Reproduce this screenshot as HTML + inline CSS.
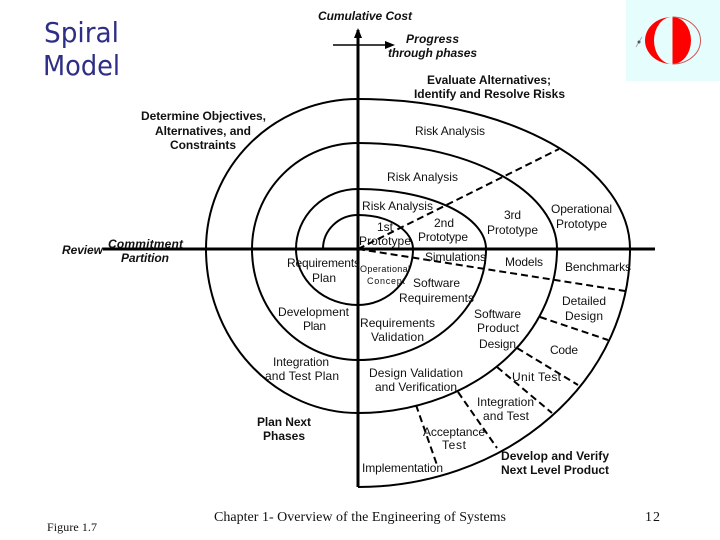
<!DOCTYPE html>
<html>
<head>
<meta charset="utf-8">
<style>
html,body{margin:0;padding:0;background:#fff;width:720px;height:540px;overflow:hidden}
svg{display:block}
text{font-family:"Liberation Sans",sans-serif;font-size:12px;fill:#111}
.b{font-weight:bold}
.bi{font-weight:bold;font-style:italic}
.s{font-family:"Liberation Serif",serif;font-size:14px}
.t{font-family:"DejaVu Sans",sans-serif;font-size:28px;fill:#2e2e86}
.d{stroke-dasharray:7 4;stroke-width:2;stroke:#000;fill:none}
</style>
</head>
<body>
<svg width="720" height="540" viewBox="0 0 720 540" xmlns="http://www.w3.org/2000/svg">
<rect x="626" y="0" width="94" height="81" fill="#e6fdfd"/>
<path d="M672 17A27 23.500 0 0 0 672 64A18 23.500 0 0 1 672 17Z" fill="#f00"/>
<path d="M672.500 17A18.500 23.500 0 0 1 672.500 64Z" fill="#f00"/>
<path d="M672.500 17A28 23.500 0 0 1 672.500 64" fill="none" stroke="#c55" stroke-width="1"/>
<path d="M636 47L642 37" stroke="#aab" stroke-width="1"/>
<circle cx="639" cy="42" r="1.500" fill="#556"/>

<g fill="none" stroke="#000" stroke-width="2">
<path d="M323 249A35 34 0 0 1 358 215A55 34 0 0 1 413 249A55 56 0 0 1 358 305A62 56 0 0 1 296 249A62 60 0 0 1 358 189A128 60 0 0 1 486 249A128 111 0 0 1 358 360A106 111 0 0 1 252 249A106 106 0 0 1 358 143A199 106 0 0 1 557 249A199 164 0 0 1 358 413A152 164 0 0 1 206 249A152 150 0 0 1 358 99A272 150 0 0 1 630 249A272 238 0 0 1 358 487"/>
</g>
<path d="M358 30V487" stroke="#000" stroke-width="3"/>
<path d="M103 249H655" stroke="#000" stroke-width="3"/>
<path d="M358 28L354 38H362Z" fill="#000"/>
<path d="M333 45H392" stroke="#000" stroke-width="1.500"/>
<path d="M395 45L385 41V49Z" fill="#000"/>

<path class="d" d="M358 249L559 149"/>
<path class="d" d="M358 249L625 291"/>
<path class="d" d="M540 317L608 340"/>
<path class="d" d="M517 348L578 385"/>
<path class="d" d="M497 367L552 413"/>
<path class="d" d="M458 392L497 448"/>
<path class="d" d="M416 405L437 465"/>

<text class="t" x="44" y="42" textLength="75" lengthAdjust="spacingAndGlyphs">Spiral</text>
<text class="t" x="43" y="75" textLength="77" lengthAdjust="spacingAndGlyphs">Model</text>

<g>
<text class="bi" x="318" y="20" textLength="94">Cumulative Cost</text>
<text class="bi" x="406" y="43" textLength="53">Progress</text>
<text class="bi" x="388" y="57" textLength="89">through phases</text>
<text class="b" x="427" y="84" textLength="124">Evaluate Alternatives;</text>
<text class="b" x="414" y="98" textLength="151">Identify and Resolve Risks</text>
<text class="b" x="141" y="120" textLength="125">Determine Objectives,</text>
<text class="b" x="155" y="135" textLength="96">Alternatives, and</text>
<text class="b" x="170" y="149" textLength="66">Constraints</text>
<text x="415" y="135" textLength="70">Risk Analysis</text>
<text x="387" y="181" textLength="71">Risk Analysis</text>
<text x="362" y="210" textLength="71">Risk Analysis</text>
<text x="377" y="231" textLength="16">1st</text>
<text x="359" y="245" textLength="52">Prototype</text>
<text x="434" y="227" textLength="20">2nd</text>
<text x="418" y="241" textLength="50">Prototype</text>
<text x="504" y="219" textLength="17">3rd</text>
<text x="487" y="234" textLength="51">Prototype</text>
<text x="551" y="213" textLength="61">Operational</text>
<text x="556" y="228" textLength="51">Prototype</text>
<text x="425" y="261" textLength="61">Simulations</text>
<text x="505" y="266" textLength="38">Models</text>
<text x="565" y="271" textLength="66">Benchmarks</text>
<text x="287" y="267" textLength="73">Requirements</text>
<text x="312" y="282" textLength="24">Plan</text>
<text x="360" y="272" textLength="50" style="font-size:9px">Operational</text>
<text x="367" y="284" textLength="38" style="font-size:9px">Concept</text>
<text x="413" y="287" textLength="47">Software</text>
<text x="399" y="302" textLength="75">Requirements</text>
<text x="562" y="305" textLength="44">Detailed</text>
<text x="565" y="320" textLength="38">Design</text>
<text x="474" y="318" textLength="47">Software</text>
<text x="477" y="332" textLength="42">Product</text>
<text x="479" y="348" textLength="37">Design</text>
<text x="550" y="354" textLength="28">Code</text>
<text x="278" y="316" textLength="71">Development</text>
<text x="303" y="330" textLength="23">Plan</text>
<text x="360" y="327" textLength="75">Requirements</text>
<text x="371" y="341" textLength="53">Validation</text>
<text x="273" y="366" textLength="56">Integration</text>
<text x="265" y="380" textLength="74">and Test Plan</text>
<text x="369" y="377" textLength="94">Design Validation</text>
<text x="375" y="391" textLength="82">and Verification</text>
<text x="512" y="381" textLength="49">Unit Test</text>
<text x="477" y="406" textLength="57">Integration</text>
<text x="483" y="420" textLength="46">and Test</text>
<text x="423" y="436" textLength="62">Acceptance</text>
<text x="442" y="449" textLength="24">Test</text>
<text class="b" x="257" y="426" textLength="54">Plan Next</text>
<text class="b" x="263" y="440" textLength="42">Phases</text>
<text x="362" y="472" textLength="81">Implementation</text>
<text class="b" x="501" y="460" textLength="108">Develop and Verify</text>
<text class="b" x="501" y="474" textLength="108">Next Level Product</text>
<text class="bi" x="62" y="254" textLength="41">Review</text>
<text class="bi" x="108" y="248" textLength="75">Commitment</text>
<text class="bi" x="121" y="262" textLength="48">Partition</text>
<text class="s" x="47" y="531" textLength="50" style="font-size:12px">Figure 1.7</text>
<text class="s" x="214" y="521" textLength="292">Chapter 1- Overview of the Engineering of Systems</text>
<text class="s" x="645" y="521" textLength="15">12</text>
</g>
</svg>
</body>
</html>
